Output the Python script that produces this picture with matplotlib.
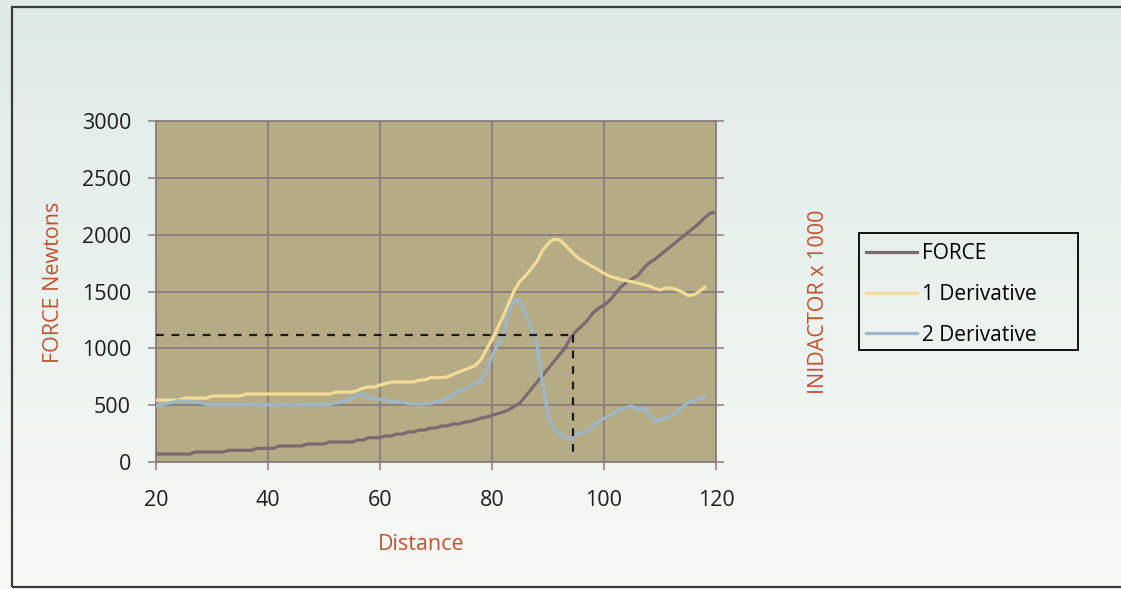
import numpy as np
import matplotlib.pyplot as plt
from matplotlib.patches import Rectangle

# distance (x) and readings, taken off the original chart
force_x = list(range(20, 120)) + [119.5]
force = [70, 70, 70, 70, 70, 70, 70, 88, 88, 88,
         88, 88, 88, 103, 103, 103, 103, 103, 120, 120,
         120, 120, 141, 141, 141, 141, 141, 158, 158, 158,
         158, 176, 176, 176, 176, 176, 193, 193, 214, 214,
         214, 229, 229, 246, 246, 264, 264, 281, 281, 299,
         299, 317, 317, 334, 334, 350, 355, 370, 385, 395,
         410, 425, 440, 460, 490, 520, 580, 640, 700, 760,
         820, 880, 940, 1000, 1090, 1150, 1195, 1245, 1310, 1350,
         1380, 1420, 1480, 1540, 1580, 1610, 1640, 1700, 1750, 1780,
         1820, 1860, 1900, 1940, 1980, 2020, 2060, 2100, 2150, 2190,
         2195]

deriv_x = list(range(20, 119))
deriv1 = [545, 545, 545, 545, 545, 562, 562, 562, 562, 562,
          580, 580, 580, 580, 580, 580, 598, 598, 598, 598,
          598, 598, 598, 598, 598, 598, 598, 598, 598, 598,
          598, 598, 615, 615, 615, 615, 630, 650, 660, 660,
          677, 690, 704, 704, 704, 704, 704, 721, 721, 742,
          742, 742, 748, 770, 790, 810, 827, 850, 900, 990,
          1075, 1180, 1280, 1400, 1510, 1590, 1640, 1700, 1762, 1860,
          1920, 1960, 1955, 1910, 1860, 1810, 1775, 1747, 1718, 1690,
          1660, 1635, 1620, 1605, 1595, 1586, 1575, 1562, 1550, 1530,
          1513, 1530, 1530, 1515, 1495, 1465, 1470, 1500, 1537]
deriv2 = [493, 505, 516, 525, 539, 535, 528, 525, 522, 507,
          507, 507, 507, 507, 507, 507, 507, 507, 493, 507,
          507, 493, 507, 507, 493, 507, 507, 500, 507, 500,
          507, 507, 519, 525, 540, 560, 590, 600, 565, 555,
          551, 545, 530, 528, 528, 512, 510, 510, 510, 515,
          530, 540, 560, 590, 625, 640, 665, 692, 710, 800,
          930, 1030, 1117, 1330, 1430, 1420, 1300, 1180, 1050, 700,
          420, 290, 255, 215, 200, 240, 262, 265, 317, 350,
          384, 410, 440, 460, 480, 493, 460, 478, 420, 355,
          375, 384, 410, 434, 487, 520, 545, 551, 580]

# reading marked with the dashed guide
mark_x = 94.4
mark_force = 1117

xticks = [20, 40, 60, 80, 100, 120]
yticks = [0, 500, 1000, 1500, 2000, 2500, 3000]

W, H = 1121, 589
fig = plt.figure(figsize=(W / 100, H / 100), dpi=100)

# soft gradient background
bg = fig.add_axes([0, 0, 1, 1], zorder=-10)
top = np.array([0.871, 0.918, 0.902])
bot = np.array([0.969, 0.980, 0.969])
t = np.linspace(0, 1, 256)[:, None, None]
grad = top * (1 - t) + bot * t
bg.imshow(np.repeat(grad, 4, axis=1), aspect='auto', extent=[0, 1, 0, 1])
bg.add_patch(Rectangle((12 / W, 1 - 587 / H), 1.2, (587 - 7) / H,
                       fill=False, edgecolor='#3a3a3a', lw=1.6))
# legend box
bg.add_patch(Rectangle((859 / W, 1 - 350 / H), (1078 - 859) / W, (350 - 233) / H,
                       fill=False, edgecolor='#111111', lw=1.4))
bg.set_xlim(0, 1)
bg.set_ylim(0, 1)
bg.axis('off')

plt.rcParams['font.family'] = ['Open Sans', 'DejaVu Sans']
label_color = '#c0532f'
grid_color = '#8b7c80'

ax = fig.add_axes([156 / W, 1 - 462 / H, (716 - 156) / W, (462 - 121) / H])
ax.set_facecolor('#b5ab84')
ax.plot(force_x, force, color='#7a6a70', lw=2.3, label='FORCE', zorder=3)
ax.plot(deriv_x, deriv1, color='#f3dc97', lw=2.3, label='1 Derivative', zorder=3)
ax.plot(deriv_x, deriv2, color='#9cb7c9', lw=2.3, label='2 Derivative', zorder=3)

ax.plot([20, mark_x], [mark_force, mark_force], color='#1a1a1a', lw=1.6,
        ls=(0, (3.5, 3.5)), zorder=4)
ax.plot([mark_x, mark_x], [mark_force, 40], color='#1a1a1a', lw=1.6,
        ls=(0, (3.5, 3.5)), zorder=4)

ax.set_xlim(20, 120)
ax.set_ylim(0, 3000)
ax.set_xticks(xticks)
ax.set_yticks(yticks)
ax.grid(True, color=grid_color, lw=1.3)
ax.set_axisbelow(True)
for s in ax.spines.values():
    s.set_color(grid_color)
    s.set_linewidth(1.3)
ax.tick_params(axis='both', direction='out', length=6, width=1.1,
               color=grid_color, labelsize=15.5, labelcolor='#1e1e1e')
ax.tick_params(axis='x', pad=14)
ax.tick_params(axis='y', pad=12, right=True)

fig.text(421 / W, 1 - 545 / H, 'Distance', color=label_color, fontsize=15.5,
         ha='center', va='center')
fig.text(54 / W, 1 - 282 / H, 'FORCE Newtons', color=label_color,
         fontsize=15.5, rotation=90, ha='center', va='center')
fig.text(819 / W, 1 - 302 / H, 'INIDACTOR x 1000', color=label_color,
         fontsize=15.5, rotation=90, ha='center', va='center')

leg = ax.legend(loc='upper left', bbox_to_anchor=(866 / W, 1 - 243 / H),
                bbox_transform=fig.transFigure, fontsize=15, frameon=False,
                handlelength=2.45, handletextpad=0.25,
                labelspacing=0.95, borderpad=0, borderaxespad=0)

fig.savefig('out.png', dpi=100)
